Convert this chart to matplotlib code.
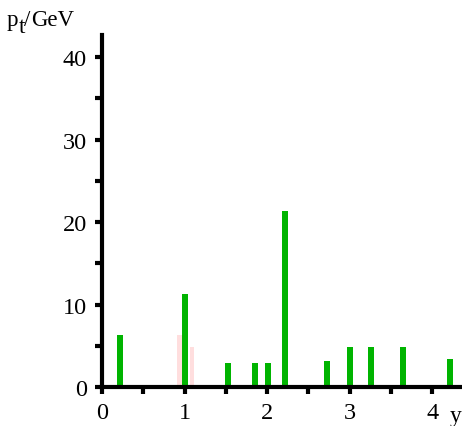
import matplotlib
matplotlib.use("Agg")
import matplotlib.pyplot as plt

plt.rcParams['font.family'] = ['Liberation Serif', 'DejaVu Serif']

# rapidity and transverse momentum of the jets
green_y = [0.22, 1.00, 1.53, 1.85, 2.01, 2.22, 2.72, 3.00, 3.26, 3.65, 4.22]
green_pt = [6.3, 11.3, 2.9, 2.9, 2.9, 21.3, 3.2, 4.85, 4.85, 4.85, 3.36]

# faint background entries
pink_y = [0.94, 1.09]
pink_pt = [6.3, 4.85]

x_ticks = [0, 1, 2, 3, 4]
y_ticks = [0, 10, 20, 30, 40]

W, H = 462, 427
fig = plt.figure(figsize=(W / 100, H / 100), dpi=100)
ax = fig.add_axes([102 / W, 39 / H, 360 / W, 352 / H])

ax.bar(pink_y, pink_pt, width=0.06, color='#ffdede', zorder=2)
ax.bar(green_y, green_pt, width=0.072, color='#00b400', zorder=3)

ax.set_xlim(0, 4.36)
ax.set_ylim(0, 42.7)

for s in ('top', 'right'):
    ax.spines[s].set_visible(False)
for s in ('left', 'bottom'):
    ax.spines[s].set_linewidth(3)
    ax.spines[s].set_zorder(4)

ax.set_xticks(x_ticks)
ax.set_xticks([0.5, 1.5, 2.5, 3.5], minor=True)
ax.set_yticks(y_ticks)
ax.set_yticks([5, 15, 25, 35], minor=True)
ax.tick_params(which='both', direction='out', length=5, width=3, labelsize=17.5)
ax.tick_params(axis='x', pad=6)
ax.tick_params(axis='y', pad=6)


def px_text(x, y, s, size):
    """Place text with its baseline at pixel (x, y) measured from the top left."""
    fig.text(x / W, 1 - y / H, s, fontsize=size, ha='left', va='baseline')


# axis titles
px_text(450, 422, 'y', 17)
px_text(7, 26, 'p', 16.5)
px_text(18.5, 33, 't', 16.5)
px_text(24.5, 26, '/', 16.5)
px_text(31, 26, 'GeV', 16.5)

fig.savefig('out.png', dpi=100)
